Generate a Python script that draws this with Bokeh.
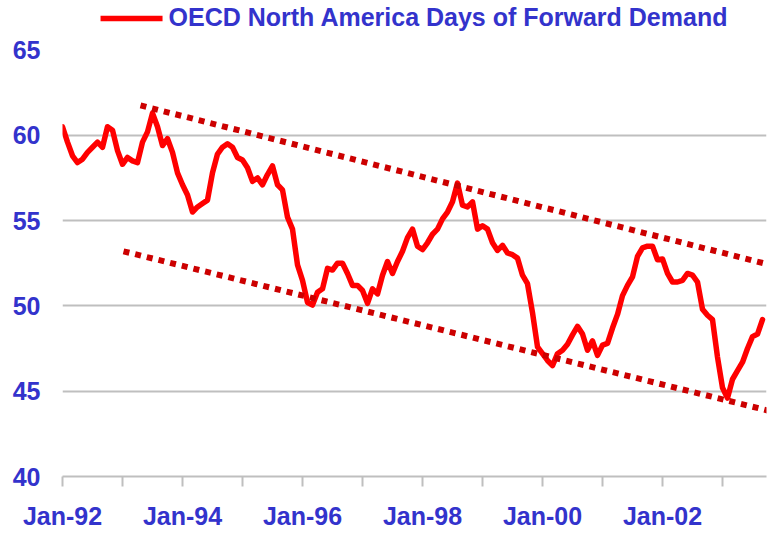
import numpy as np
from bokeh.plotting import figure
from bokeh.models import FixedTicker, Range1d, Legend, LegendItem
from bokeh.embed import file_html
from bokeh.resources import INLINE

# Monthly values, Jan-1992 .. Sep-2003
days_forward = [
    60.5, 59.6, 58.8, 58.4, 58.6, 59.0, 59.3, 59.6, 59.3, 60.5, 60.3, 59.1,   # 1992
    58.3, 58.7, 58.5, 58.4, 59.6, 60.2, 61.3, 60.5, 59.4, 59.8, 59.0, 57.8,   # 1993
    57.1, 56.5, 55.5, 55.8, 56.0, 56.2, 57.8, 58.9, 59.3, 59.5, 59.3, 58.7,   # 1994
    58.55, 58.1, 57.3, 57.5, 57.1, 57.7, 58.2, 57.1, 56.8, 55.2, 54.5, 52.4,  # 1995
    51.5, 50.2, 50.05, 50.8, 51.0, 52.2, 52.1, 52.5, 52.5, 51.9, 51.2, 51.2,  # 1996
    50.9, 50.15, 51.0, 50.7, 51.8, 52.6, 51.9, 52.6, 53.2, 54.0, 54.5, 53.5,  # 1997
    53.3, 53.7, 54.2, 54.5, 55.1, 55.5, 56.1, 57.2, 55.9, 55.8, 56.1, 54.5,   # 1998
    54.7, 54.5, 53.7, 53.25, 53.55, 53.1, 53.0, 52.8, 51.8, 51.3, 49.6, 47.6, # 1999
    47.2, 46.8, 46.5, 47.2, 47.4, 47.75, 48.3, 48.8, 48.35, 47.4, 47.95, 47.1,# 2000
    47.7, 47.8, 48.7, 49.5, 50.6, 51.2, 51.7, 52.9, 53.4, 53.5, 53.5, 52.7,   # 2001
    52.75, 51.9, 51.4, 51.4, 51.5, 51.9, 51.8, 51.4, 49.8, 49.45, 49.2, 47.0, # 2002
    45.2, 44.6, 45.7, 46.2, 46.7, 47.5, 48.2, 48.35, 49.2,                    # 2003
]
months = list(range(len(days_forward)))  # months since Jan-1992

# Trend channel (months since Jan-1992, value)
upper_trend_months = [15.6, 142.0]
upper_trend_values = [61.75, 52.37]
lower_trend_months = [12.2, 142.0]
lower_trend_values = [53.2, 43.8]

tick_years = list(range(1992, 2004))
tick_labels = ["Jan-92", "", "Jan-94", "", "Jan-96", "", "Jan-98", "",
               "Jan-00", "", "Jan-02", ""]
y_ticks = [40, 45, 50, 55, 60, 65]
y_grid = [45, 50, 55, 60]

BLUE = "#3333CC"
GRAY = "#BFBFBF"
FONT = "Liberation Sans"

x_ticks = [(y - 1992) * 12 for y in tick_years]

p = figure(width=770, height=532, output_backend="svg", toolbar_location=None,
           x_range=Range1d(0, 140.8), y_range=Range1d(40, 67.9),
           min_border_left=62, min_border_right=4, min_border_top=0,
           min_border_bottom=52)
p.outline_line_color = None
p.background_fill_color = "white"
p.xgrid.grid_line_color = None
p.ygrid.ticker = FixedTicker(ticks=y_grid)
p.ygrid.grid_line_color = GRAY
p.ygrid.grid_line_width = 2

r = p.line(months, days_forward, line_color="#FF0000", line_width=5.5,
           line_join="round", line_cap="round")
p.line(upper_trend_months, upper_trend_values, line_color="#CC0000",
       line_width=6, line_dash="6 6", line_cap="butt")
p.line(lower_trend_months, lower_trend_values, line_color="#CC0000",
       line_width=6, line_dash="6 6", line_cap="butt")

xa = p.xaxis[0]
xa.ticker = FixedTicker(ticks=x_ticks)
xa.major_label_overrides = {t: l for t, l in zip(x_ticks, tick_labels)}
xa.axis_line_color = GRAY
xa.axis_line_width = 2
xa.major_tick_line_color = GRAY
xa.major_tick_line_width = 2
xa.major_tick_in = 0
xa.major_tick_out = 10
xa.minor_tick_line_color = None
xa.major_label_standoff = 15
xa.major_label_text_font = FONT
xa.major_label_text_font_size = "25px"
xa.major_label_text_font_style = "bold"
xa.major_label_text_color = BLUE

ya = p.yaxis[0]
ya.ticker = FixedTicker(ticks=y_ticks)
ya.axis_line_color = None
ya.major_tick_line_color = None
ya.minor_tick_line_color = None
ya.major_tick_out = 0
ya.major_tick_in = 0
ya.major_label_standoff = 22
ya.major_label_text_font = FONT
ya.major_label_text_font_size = "25px"
ya.major_label_text_font_style = "bold"
ya.major_label_text_color = BLUE

legend = Legend(items=[LegendItem(label="OECD North America Days of Forward Demand",
                                  renderers=[r])],
                location="top_center", orientation="horizontal",
                border_line_color=None, background_fill_alpha=0,
                padding=0, margin=3, glyph_width=62, glyph_height=20,
                label_standoff=6, label_text_font=FONT,
                label_text_font_size="25px", label_text_font_style="bold",
                label_text_color=BLUE)
p.add_layout(legend, "center")

open("out.html", "w").write(file_html(p, INLINE))
